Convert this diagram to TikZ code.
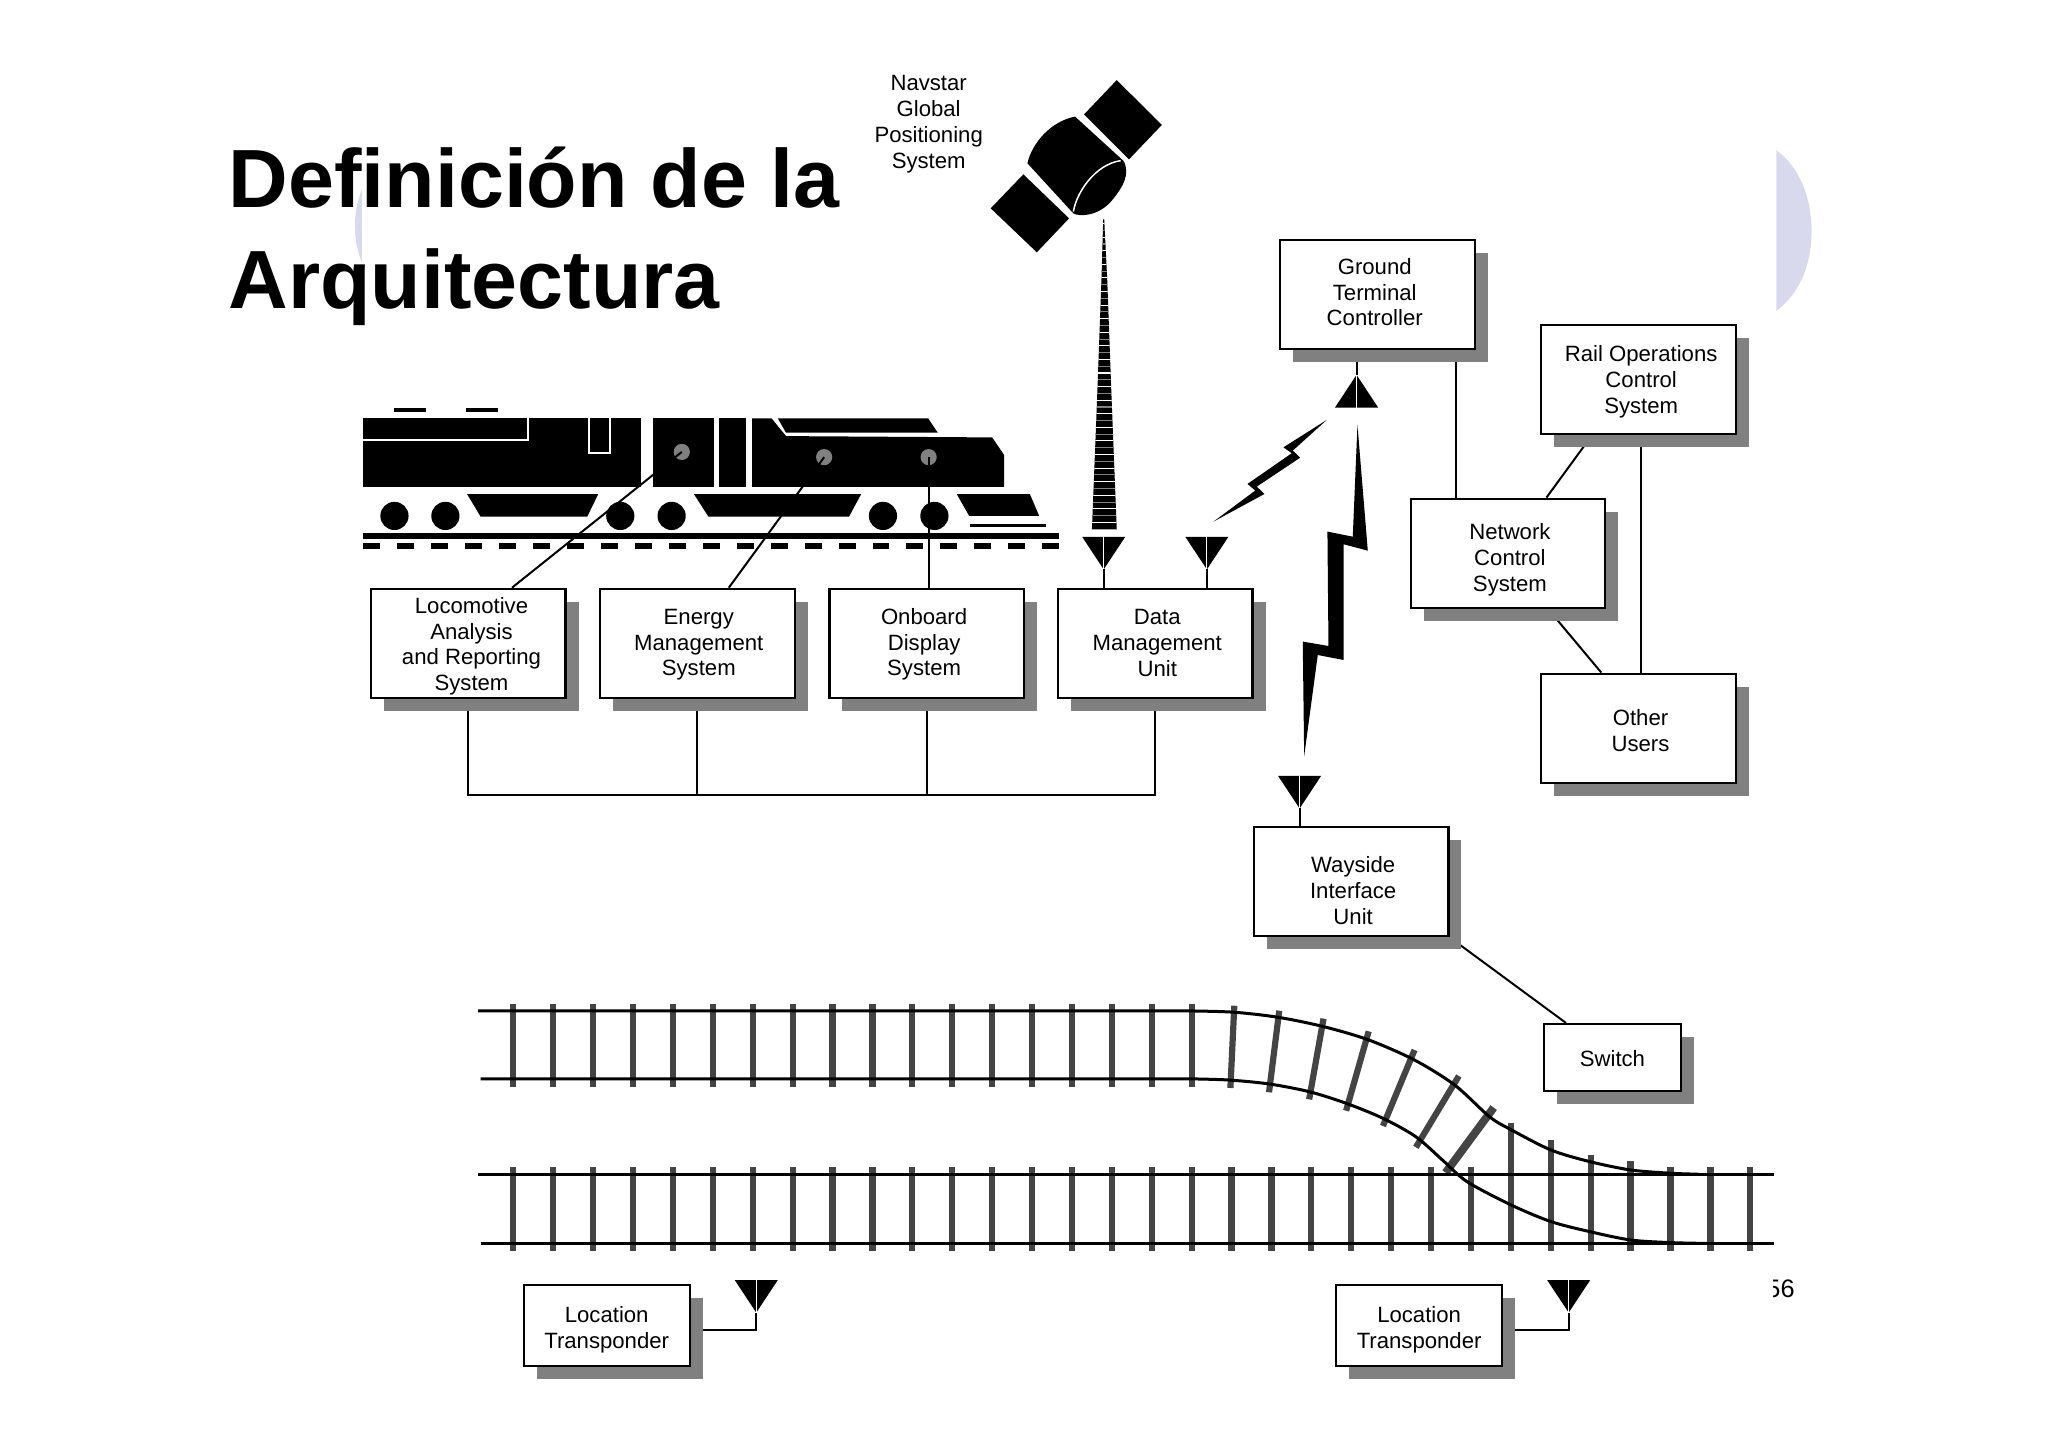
\documentclass[tikz,border=0pt]{standalone}
\usepackage{fontspec}
\setmainfont{Liberation Sans}
\usetikzlibrary{shadows,backgrounds}
\definecolor{shadowgray}{HTML}{808080}
\definecolor{tiegray}{HTML}{444444}
\definecolor{slidelav}{HTML}{D9D9EE}
\newlength{\pxunit}
\setlength{\pxunit}{0.1306mm}
\tikzset{
    box/.style={draw=black, semithick, fill=white, inner sep=0pt,
        font=\fontsize{6.3}{7.35}\selectfont,
        drop shadow={shadow xshift=1.3mm, shadow yshift=-1.3mm, fill=shadowgray, opacity=1}},
    bigbox/.style={box, minimum width=19.45mm, minimum height=10.9mm},
    tie/.style={tiegray, line width=0.62mm},
    rail/.style={black, line width=0.3mm},
    link/.style={black, line width=0.2mm},
}
\newcommand{\BoxText}[3]{\raisebox{\dimexpr-1.6pt-#2\pxunit\relax}[0pt][0pt]{\makebox[0pt]{\hspace*{2\dimexpr#1\pxunit\relax}\begin{tabular}{@{}c@{}}#3\end{tabular}}}}
\newcommand{\Antenna}[3][1]{
    \coordinate (#2) at #3;
    \begin{scope}[shift={#3}, yscale=#1]
        \fill[black] (-16.5,-25) -- (16.5,-25) -- (0,0) -- cycle;
        \draw[white, line width=0.12mm] (0,-25) -- (0,0);
    \end{scope}
}
\newcommand{\Locomotive}{
    \fill[black] (278,320.3) rectangle (490.5,372.7);
    \draw[white, line width=0.2mm] (278,337) -- (404,337) -- (404,320.3);
    \draw[white, line width=0.2mm] (451,320.3) -- (451,347) -- (467,347) -- (467,320.3);
    \fill[black] (499.7,320.3) rectangle (546.9,372.7);
    \fill[black] (550.6,320.3) rectangle (571.4,372.7);
    \fill[black] (575.8,320.3) -- (590.7,320.3) -- (601.8,333.9) -- (759.6,334.9) -- (768.8,348.4) -- (768.8,372.7) -- (575.8,372.7) -- cycle;
    \fill[black] (595.5,320.3) -- (710.6,320.3) -- (718,331.3) -- (601.8,331.3) -- cycle;
    \fill[black] (357.6,378.3) -- (458,378.3) -- (449.6,395.6) -- (368,395.6) -- cycle;
    \fill[black] (531.3,378.3) -- (659.3,378.3) -- (650,395.6) -- (542.4,395.6) -- cycle;
    \fill[black] (732.5,378.3) -- (788.5,378.3) -- (795.6,395) -- (742,395) -- cycle;
    \draw[black, line width=0.3mm] (742.8,402) -- (801,402);
    \draw[black, line width=0.4mm] (302,314) -- (326,314);
    \draw[black, line width=0.4mm] (357,314) -- (381,314);
    \foreach \wheelx in {302,341,474.9,514.2,676,715.4}
        \fill[black] (\wheelx,395) circle[radius=10.8];
    \foreach \gaugex/\gaugey in {522/346,631/350,711/350}
        \fill[shadowgray] (\gaugex,\gaugey) circle[radius=6.2];
    \fill[black] (278,408.4) rectangle (810.8,412.4);
    \foreach \i in {0,...,20}
        \fill[black] (278+26*\i,416) rectangle ++(13,4);
}
\newcommand{\Satellite}{
    \fill[black] (855,61.3) -- (889.5,95.7) -- (864.4,122) -- (830,87.6) -- cycle;
    \fill[black] (783.5,133.5) -- (818.5,167.2) -- (793.8,193.2) -- (758.5,159.5) -- cycle;
    \fill[black] (823.1,89.3) .. controls (804,93) and (790,110) .. (786.6,125)
        -- (821.8,163.4) .. controls (826,166) and (842,166) .. (852.5,152)
        .. controls (859,144) and (866,133) .. (860,123) -- cycle;
    \draw[white, line width=0.15mm] (821.8,162) .. controls (824,148) and (838,126) .. (858,123);
    \begin{scope}
        \clip (844.6,168) -- (845.4,168) -- (847.7,214) -- (851,304) -- (855,405.3) -- (836,405.3) -- (840,304) -- (843.3,214) -- cycle;
        \fill[black] (830,160) rectangle (860,410);
        \foreach \i in {0,...,22} {
            \draw[white, line width=0.11mm] (830,400-10.4*\i) -- (860,400-10.4*\i);
            \draw[black!50, line width=0.11mm] (830,394.8-10.4*\i) -- (860,394.8-10.4*\i);
        }
    \end{scope}
}
\newcommand{\BoltA}{
    \fill[black] (1015.8,321.5) -- (982.6,342.5) -- (989,347) -- (955.1,370.5) -- (961,375.6) -- (929,399.4)
        -- (968.1,378.2) -- (962.2,372.6) -- (995.4,350.4) -- (989.8,345) -- cycle;
}
\newcommand{\BoltB}{
    \fill[black] (1039.3,325.4) -- (1047.2,421.6) -- (1028.6,416.7) -- (1028.6,505.3) -- (1008.9,501.5)
        -- (998.5,578.8) -- (997.4,491.2) -- (1017.1,494.6) -- (1016.3,407) -- (1035.7,410.9) -- cycle;
}
\newcommand{\Tracks}{
    \foreach \i in {0,...,17}
        \draw[tie] (393+30.55*\i,768.7) -- (393+30.55*\i,832);
    \foreach \i in {0,...,31}
        \draw[tie] (393+30.55*\i,893.5) -- (393+30.55*\i,958);
    \foreach \tiex/\tiey in {1156.8/860,1187.3/873,1217.9/884,1248.4/889}
        \draw[tie] (\tiex,\tiey) -- (\tiex,893.5);
    \draw[tie] (945,770) -- (942,833);
    \draw[tie] (979.4,773.8) -- (971.6,836.3);
    \draw[tie] (1013.3,779.9) -- (1002.3,841.7);
    \draw[tie] (1047.9,789.6) -- (1030.6,850.4);
    \draw[tie] (1083,803.9) -- (1058.8,862.1);
    \draw[tie] (1116.9,823.8) -- (1084,878.4);
    \draw[tie, line width=0.8mm] (1143.6,848) -- (1106.8,897.8);
    \draw[rail] (366,899) -- (1358,899);
    \draw[rail] (368,952) -- (1358,952);
    \draw[rail] (366,774) -- (912,774) plot[smooth] coordinates {(912,774) (945,775) (978.8,778.9) (1013.3,786) (1047.9,796.2) (1083,811.6) (1113.7,830.7) (1140.4,855) (1157,865) (1187.5,880.5) (1217.3,889.4) (1248.7,895.8) (1280,898.3) (1300,899)};
    \draw[rail] (368,826) -- (912,826) plot[smooth] coordinates {(912,826) (941,826.9) (971.6,829.9) (1002.3,835.8) (1030.6,844.7) (1058.8,856.2) (1084,870.3) (1104.3,888.1) (1123.2,904.7) (1157,922.6) (1187.5,935.3) (1217.3,943) (1248.7,949.4) (1280,951.4) (1308,952)};
}

\begin{document}
\begin{tikzpicture}[x=0.1306mm,y=-0.1306mm]
    \useasboundingbox (0,0) rectangle (1568,1108);
    \begin{pgfonlayer}{background}
        \fill[slidelav] (277,145) .. controls (270,163) and (270,183) .. (277,201) -- cycle;
        \fill[slidelav] (1360,115) .. controls (1378,128) and (1387,152) .. (1387,177) .. controls (1387,202) and (1378,225) .. (1360,238) -- cycle;
    \end{pgfonlayer}

    \node[anchor=west, inner sep=0pt, align=left, font=\fontsize{23.5}{28.6}\selectfont\bfseries] (title) at (174.5,181) {Definición de la\\Arquitectura};
    \node[align=center, inner sep=0pt, font=\fontsize{6.3}{7.35}\selectfont] (navstar) at (711,95) {Navstar\\Global\\Positioning\\System};
    \begin{scope}
        \clip (1358,970) rectangle (1400,1000);
        \node[anchor=east, inner sep=0pt, font=\fontsize{7.2}{8}\selectfont] (pagenum) at (1374.5,987) {56};
    \end{scope}

    \Locomotive
    \Satellite
    \BoltA
    \BoltB
    \Tracks

    \node[bigbox] (loco) at (358.5,492.5) {\BoxText{2.5}{2.5}{Locomotive\\Analysis\\and Reporting\\System}};
    \node[bigbox] (energy) at (534,492.5) {\BoxText{1}{1}{Energy\\Management\\System}};
    \node[bigbox] (onboard) at (709.5,492.5) {\BoxText{-2}{1}{Onboard\\Display\\System}};
    \node[bigbox] (dmu) at (884.5,492.5) {\BoxText{1.5}{1.5}{Data\\Management\\Unit}};
    \node[bigbox] (gtc) at (1054.5,225.5) {\BoxText{-2}{0}{Ground\\Terminal\\Controller}};
    \node[bigbox] (rocs) at (1254.5,290.5) {\BoxText{2}{2}{Rail Operations\\Control\\System}};
    \node[bigbox] (ncs) at (1154.5,423.5) {\BoxText{1.5}{5}{Network\\Control\\System}};
    \node[bigbox] (other) at (1254.5,557.5) {\BoxText{1.5}{4}{Other\\Users}};
    \node[bigbox] (wiu) at (1034.5,675) {\BoxText{1.5}{8.5}{Wayside\\Interface\\Unit}};
    \node[box, minimum width=13.7mm, minimum height=6.65mm] (switch) at (1234.5,809.5) {\BoxText{0}{3}{Switch}};
    \node[box, minimum width=16.6mm, minimum height=8.1mm] (lta) at (464.5,1015) {\BoxText{0}{3.5}{Location\\Transponder}};
    \node[box, minimum width=16.6mm, minimum height=8.1mm] (ltb) at (1086.5,1015) {\BoxText{0}{3.5}{Location\\Transponder}};

    \Antenna{antsat}{(845,436)}
    \Antenna{antgnd}{(924,436)}
    \Antenna{antwiu}{(995,619)}
    \Antenna[-1]{antgtc}{(1038.6,287)}
    \Antenna{antlta}{(579,1005)}
    \Antenna{antltb}{(1201,1005)}

    \draw[link] (loco.north -| 392,0) -- (522,346);
    \draw[link] (energy.north -| 558,0) -- (631,350);
    \draw[link] (onboard.north -| 711,0) -- (711,350);
    \begin{pgfonlayer}{background}
        \draw[link] (loco.south) |- (dmu.south |- 0,608.5) -- (dmu.south);
        \draw[link] (energy.south) -- (energy.south |- 0,608.5);
        \draw[link] (onboard.south) -- (onboard.south |- 0,608.5);
        \draw[link] (antsat) -- (dmu.north -| antsat);
        \draw[link] (antgnd) -- (dmu.north -| antgnd);
        \draw[link] (antwiu) -- (wiu.north -| antwiu);
        \draw[link] (antgtc) -- (gtc.south -| antgtc);
        \draw[link] (gtc.south -| 1115,0) -- (ncs.north -| 1115,0);
        \draw[link] (rocs.south -| 1219,0) -- (ncs.north -| 1184,0);
        \draw[link] (rocs.south -| 1256.5,0) -- (other.north -| 1256.5,0);
        \draw[link] (ncs.south -| 1185,0) -- (other.north -| 1226,0);
        \draw[link] (wiu.south east) -- (switch.north -| 1199,0);
        \draw[link] (antlta) |- (lta.east |- 0,1018);
        \draw[link] (antltb) |- (ltb.east |- 0,1018);
    \end{pgfonlayer}
\end{tikzpicture}
\end{document}
